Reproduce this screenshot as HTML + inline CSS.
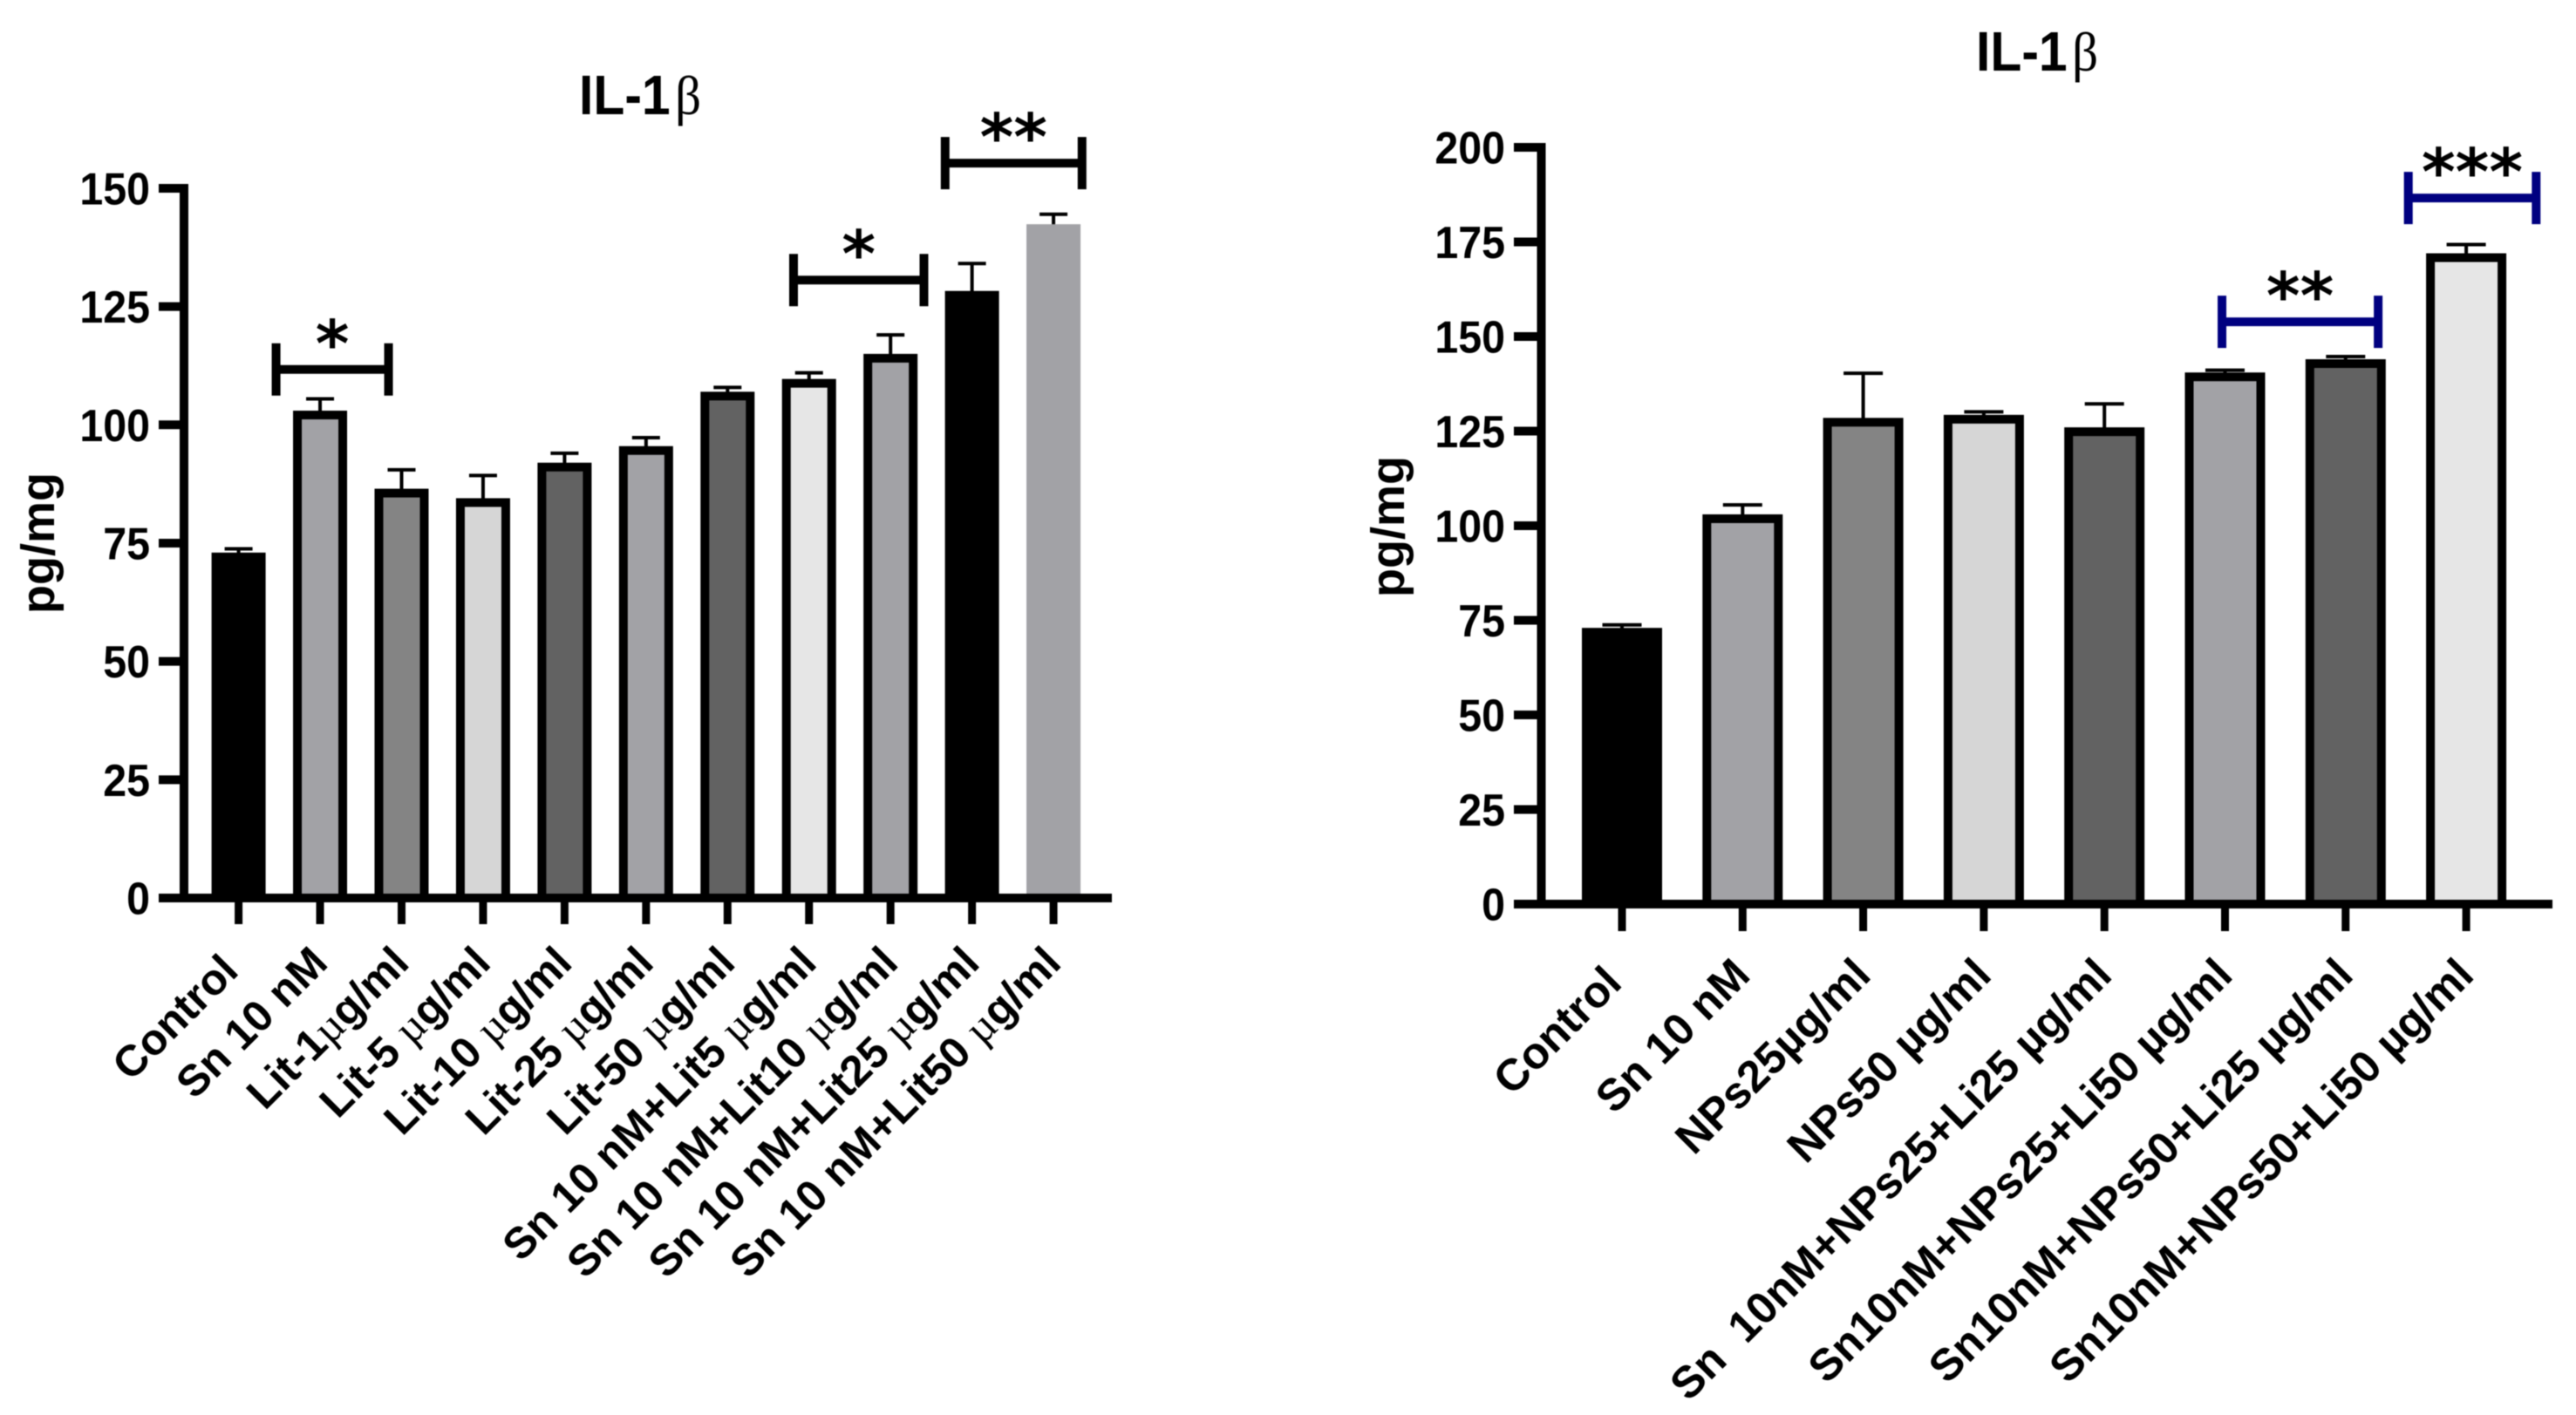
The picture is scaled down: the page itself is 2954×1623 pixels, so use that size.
<!DOCTYPE html>
<html lang="en">
<head>
<meta charset="utf-8">
<title>IL-1β bar charts</title>
<style>
  html, body { margin: 0; padding: 0; background: #fff; }
  #figure { display: block; width: 2954px; height: 1623px; filter: blur(0.6px); }
  text { font-family: "Liberation Sans", Arial, sans-serif; fill: #000; }
  .tick { font-size: 52px; font-weight: 700; }
  .cat { font-weight: 700; }
  .ylab { font-size: 54px; font-weight: 700; }
  .title { font-size: 64px; font-weight: 700; }
  .greek { font-family: "Liberation Serif", serif; font-weight: 400; }
  .star { font-family: "DejaVu Sans", sans-serif; font-size: 74px; font-weight: 700; }
</style>
</head>
<body>
<svg id="figure" xmlns="http://www.w3.org/2000/svg" width="2954" height="1623" viewBox="0 0 2954 1623">
  <rect x="0" y="0" width="2954" height="1623" fill="#ffffff"></rect>
</svg>
<script>
// ---- left chart data ----
const leftCategories = ['Control', 'Sn 10 nM', 'Lit-1µg/ml', 'Lit-5 µg/ml', 'Lit-10 µg/ml', 'Lit-25 µg/ml', 'Lit-50 µg/ml', 'Sn 10 nM+Lit5 µg/ml', 'Sn 10 nM+Lit10 µg/ml', 'Sn 10 nM+Lit25 µg/ml', 'Sn 10 nM+Lit50 µg/ml'];
const leftValues = [73, 103, 86.5, 84.5, 92, 95.5, 107, 109.7, 115, 128.3, 142.4];
const leftErrors = [0.8, 2.5, 4, 4.8, 2, 1.8, 0.9, 1.3, 4, 5.8, 2.1];
const leftTicks = [0, 25, 50, 75, 100, 125, 150];
const leftBracketFrom = [0.46, 6.81, 8.67];
const leftBracketTo = [1.84, 8.41, 10.35];
const leftBracketLevel = [111.7, 130.6, 155.3];
const leftBracketStars = ['*', '*', '**'];

// ---- right chart data ----
const rightCategories = ['Control', 'Sn 10 nM', 'NPs25µg/ml', 'NPs50 µg/ml', 'Sn\u00a0 10nM+NPs25+Li25 µg/ml', 'Sn10nM+NPs25+Li50 µg/ml', 'Sn10nM+NPs50+Li25 µg/ml', 'Sn10nM+NPs50+Li50 µg/ml'];
const rightValues = [73, 103, 128.5, 129.3, 126, 140.5, 144, 172];
const rightErrors = [0.8, 2.5, 11.8, 0.8, 6.2, 0.6, 0.7, 2.3];
const rightTicks = [0, 25, 50, 75, 100, 125, 150, 175, 200];
const rightBracketFrom = [4.975, 6.52];
const rightBracketTo = [6.27, 7.58];
const rightBracketLevel = [153.9, 186.6];
const rightBracketStars = ['**', '***'];

// ---- bar colours (style only) ----
const leftFills = ['#000000', '#a2a2a6', '#848484', '#d6d6d6', '#626262', '#a2a2a6', '#626262', '#e6e6e6', '#a2a2a6', '#000000', '#a2a2a6'];
const rightFills = ['#000000', '#a2a2a6', '#848484', '#d6d6d6', '#626262', '#a2a2a6', '#626262', '#e6e6e6'];

const NS = 'http://www.w3.org/2000/svg';
const svg = document.getElementById('figure');

function make(tag, geometry, parent) {
  const el = document.createElementNS(NS, tag);
  for (const k in geometry) el.setAttribute(k, geometry[k]);
  parent.appendChild(el);
  return el;
}

function drawChart(id, layout, cats, vals, errs, ticks, fills, bFrom, bTo, bLevel, bStars) {
  const g = make('g', {}, svg);
  
  

  const xOf = i => layout.x0 + layout.step * i;
  const yOf = v => layout.y0 - layout.unit * v;

  // bars and error bars
  vals.forEach((v, i) => {
    const top = yOf(v);
    const errTop = yOf(v + errs[i]);
    const stem = make('line', { x1: xOf(i), x2: xOf(i), y1: top + 2, y2: errTop, stroke: '#000', 'stroke-width': 4 }, g);
    
    
    const cap = make('line', { x1: xOf(i) - layout.cap / 2, x2: xOf(i) + layout.cap / 2, y1: errTop, y2: errTop, stroke: '#000', 'stroke-width': 4 }, g);
    
    
    const noBorder = layout.plainLast && i === vals.length - 1;
    const sw = noBorder ? 0 : layout.border;
    const bar = make('rect', {
      x: xOf(i) - layout.barW / 2 + sw / 2,
      y: top + sw / 2,
      width: layout.barW - sw,
      height: layout.y0 - top - sw / 2,
      fill: fills[i],
      stroke: noBorder ? 'none' : '#000',
      'stroke-width': sw
    }, g);
    
    
  });

  // y axis
  const yAxis = make('line', { x1: layout.axisX, x2: layout.axisX, y1: yOf(ticks[ticks.length - 1]) - 5, y2: layout.y0 + 5, stroke: '#000', 'stroke-width': 10 }, g);
  
  
  ticks.forEach(t => {
    const mark = make('line', { x1: layout.tickL, x2: layout.axisX, y1: yOf(t), y2: yOf(t), stroke: '#000', 'stroke-width': 10 }, g);
    
    
    const label = make('text', { x: 0, y: 0, 'text-anchor': 'end', class: 'tick', transform: 'translate(' + layout.tickTextX + ' ' + (yOf(t) + 18.5) + ') scale(0.93 1)' }, g);
    label.textContent = String(t);
    
    
  });

  // x axis
  const xAxis = make('line', { x1: layout.tickL, x2: layout.axisEnd, y1: layout.y0, y2: layout.y0, stroke: '#000', 'stroke-width': 10 }, g);
  
  
  cats.forEach((c, i) => {
    const mark = make('line', { x1: xOf(i), x2: xOf(i), y1: layout.y0, y2: layout.tickB, stroke: '#000', 'stroke-width': 9 }, g);
    
    
    const ax = xOf(i) + (i === 0 ? 2 : 11);
    const ay = layout.labelY + (i === 0 ? 9 : 0);
    const label = make('text', { x: ax, y: ay, 'text-anchor': 'end', class: 'cat', 'font-size': layout.catSize, transform: 'rotate(-45 ' + ax + ' ' + ay + ')' }, g);
    
    
    const parts = c.split('µ');
    label.appendChild(document.createTextNode(parts[0]));
    if (parts.length > 1) {
      const mu = make('tspan', layout.serifMu ? { class: 'greek' } : {}, label);
      mu.textContent = 'µ';
      label.appendChild(document.createTextNode(parts[1]));
    }
  });

  // significance brackets
  bLevel.forEach((lvl, i) => {
    const xa = xOf(bFrom[i]);
    const xb = xOf(bTo[i]);
    const y = yOf(lvl);
    const bracket = make('path', {
      d: 'M' + xa + ' ' + (y - 30) + 'V' + (y + 30) + 'M' + xa + ' ' + y + 'H' + xb + 'M' + xb + ' ' + (y - 30) + 'V' + (y + 30),
      fill: 'none',
      stroke: layout.bracketColor,
      'stroke-width': 10
    }, g);
    
    
    const star = make('text', { x: (xa + xb) / 2, y: y - 4, 'text-anchor': 'middle', class: 'star' }, g);
    star.textContent = bStars[i];
    
    
  });

  // y axis title
  const yTitle = make('text', { x: layout.yTitleX, y: layout.yTitleY, 'text-anchor': 'middle', class: 'ylab', transform: 'rotate(-90 ' + layout.yTitleX + ' ' + layout.yTitleY + ')' }, g);
  yTitle.textContent = 'pg/mg';
  
  

  // chart title
  const title = make('text', { x: 0, y: 0, class: 'title', transform: 'translate(' + layout.titleX + ' ' + layout.titleY + ') scale(0.92 1)' }, g);
  
  
  title.appendChild(document.createTextNode('IL-1'));
  const beta = make('tspan', { class: 'greek', dx: 6 }, title);
  beta.textContent = 'β';
}

drawChart('left-chart', {
  x0: 273.6, step: 93.45, y0: 1030, unit: 5.427, barW: 62, border: 10, cap: 32,
  axisX: 211, tickL: 182, axisEnd: 1275, tickB: 1060, tickTextX: 172, labelY: 1107,
  plainLast: true, serifMu: true, bracketColor: '#000000', catSize: 50,
  yTitleX: 62, yTitleY: 623, titleX: 664, titleY: 131
}, leftCategories, leftValues, leftErrors, leftTicks, leftFills, leftBracketFrom, leftBracketTo, leftBracketLevel, leftBracketStars);

drawChart('right-chart', {
  x0: 1860, step: 138.3, y0: 1037, unit: 4.34, barW: 92, border: 10, cap: 45,
  axisX: 1767.5, tickL: 1736, axisEnd: 2927, tickB: 1068, tickTextX: 1726, labelY: 1121,
  plainLast: false, serifMu: false, bracketColor: '#000080', catSize: 51,
  yTitleX: 1610, yTitleY: 604, titleX: 2266, titleY: 81
}, rightCategories, rightValues, rightErrors, rightTicks, rightFills, rightBracketFrom, rightBracketTo, rightBracketLevel, rightBracketStars);
</script>
</body>
</html>
